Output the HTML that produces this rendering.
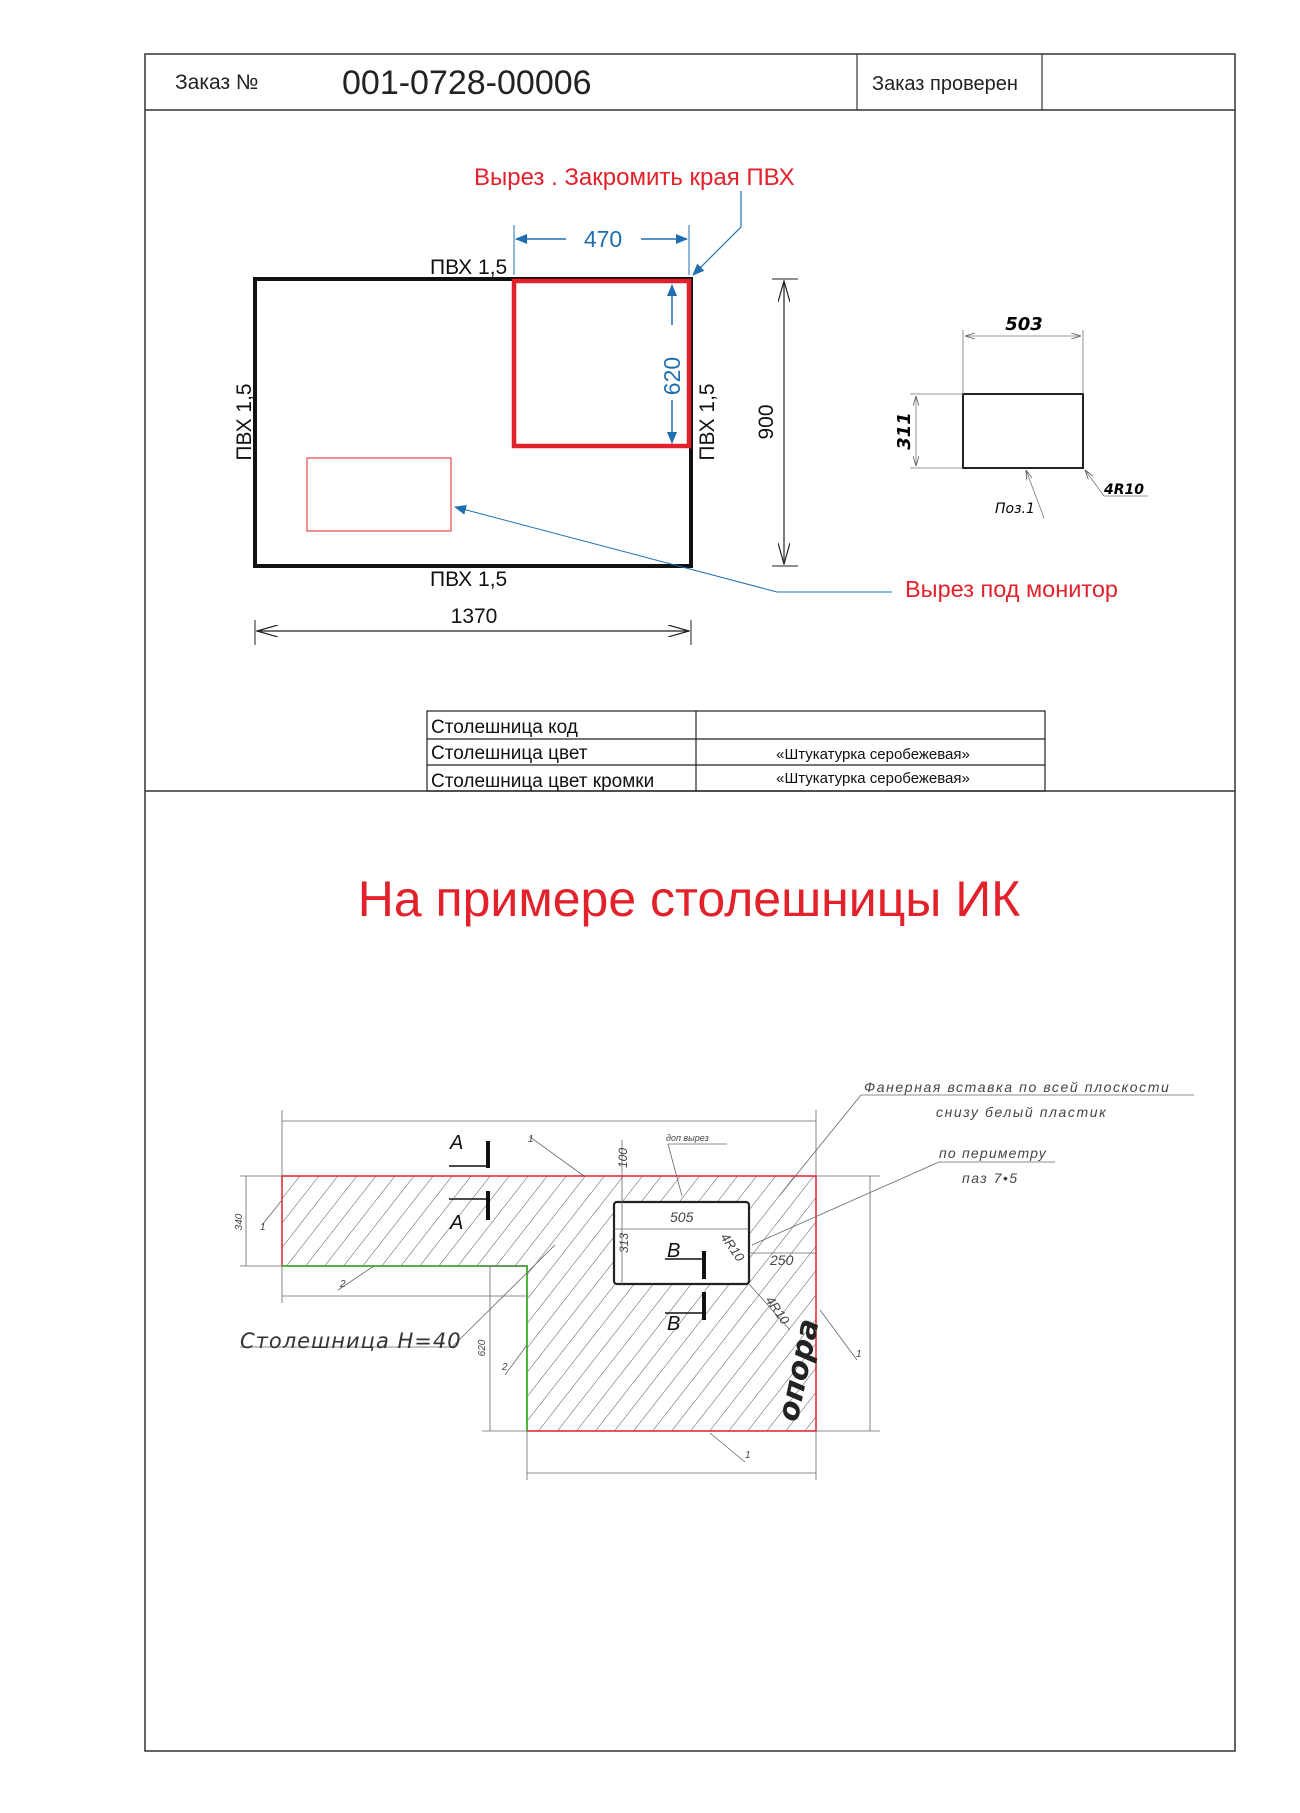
<!DOCTYPE html>
<html><head><meta charset="utf-8"><style>
html,body{margin:0;padding:0;background:#fff}
svg{display:block}
text{font-family:"Liberation Sans","DejaVu Sans",sans-serif}
.it{font-family:"DejaVu Sans","Liberation Sans",sans-serif;font-style:italic}
</style></head><body>
<svg width="1300" height="1813" viewBox="0 0 1300 1813" xmlns="http://www.w3.org/2000/svg">
<defs>
<pattern id="h" patternUnits="userSpaceOnUse" width="15" height="15" patternTransform="rotate(38)">
<line x1="0" y1="0" x2="0" y2="15" stroke="#555" stroke-width="1"/>
</pattern>
<marker id="ab" markerWidth="12" markerHeight="10" refX="11" refY="5" orient="auto" markerUnits="userSpaceOnUse"><path d="M0,0 L12,5 L0,10z" fill="#1f6fb0"/></marker>
<marker id="ak" markerWidth="22" markerHeight="12" refX="21" refY="6" orient="auto" markerUnits="userSpaceOnUse"><path d="M0,0 L21,6 L0,12" fill="none" stroke="#222" stroke-width="1.2"/></marker>
<marker id="as" markerWidth="10" markerHeight="6" refX="10" refY="3" orient="auto" markerUnits="userSpaceOnUse"><path d="M0,0 L10,3 L0,6" fill="none" stroke="#555" stroke-width="0.8"/></marker>
</defs>
<rect x="145" y="54" width="1090" height="1697" fill="none" stroke="#333" stroke-width="1.5"/>
<line x1="145" y1="110" x2="1235" y2="110" stroke="#333" stroke-width="1.5"/>
<line x1="857" y1="54" x2="857" y2="110" stroke="#333" stroke-width="1.2"/>
<line x1="1042" y1="54" x2="1042" y2="110" stroke="#333" stroke-width="1.2"/>
<line x1="145" y1="791" x2="1235" y2="791" stroke="#333" stroke-width="1.5"/>
<text x="175" y="89" font-size="21" fill="#222">Заказ №</text>
<text x="342" y="94" font-size="34" fill="#222">001-0728-00006</text>
<text x="872" y="90" font-size="20" fill="#222">Заказ проверен</text>

<text x="474" y="185" font-size="24" fill="#e3212a">Вырез . Закромить края ПВХ</text>
<polyline points="741,191 741,227 693,275" fill="none" stroke="#1f6fb0" stroke-width="1.2" marker-end="url(#ab)"/>
<rect x="255" y="279" width="436" height="287" fill="none" stroke="#111" stroke-width="4"/>
<rect x="514" y="281" width="175" height="165" fill="none" stroke="#e3212a" stroke-width="4.5"/>
<rect x="307" y="458" width="144" height="73" fill="none" stroke="#e3212a" stroke-width="1"/>
<line x1="514" y1="225" x2="514" y2="275" stroke="#1f6fb0" stroke-width="1"/>
<line x1="689" y1="225" x2="689" y2="275" stroke="#1f6fb0" stroke-width="1"/>
<line x1="566" y1="239" x2="516" y2="239" stroke="#1f6fb0" stroke-width="1.5" marker-end="url(#ab)"/>
<line x1="641" y1="239" x2="687" y2="239" stroke="#1f6fb0" stroke-width="1.5" marker-end="url(#ab)"/>
<text x="603" y="247" font-size="23" fill="#1f6fb0" text-anchor="middle">470</text>
<line x1="672" y1="325" x2="672" y2="285" stroke="#1f6fb0" stroke-width="1.5" marker-end="url(#ab)"/>
<line x1="672" y1="400" x2="672" y2="443" stroke="#1f6fb0" stroke-width="1.5" marker-end="url(#ab)"/>
<text transform="translate(680,376) rotate(-90)" font-size="23" fill="#1f6fb0" text-anchor="middle">620</text>
<text x="430" y="274" font-size="21" fill="#111">ПВХ 1,5</text>
<text x="430" y="586" font-size="21" fill="#111">ПВХ 1,5</text>
<text transform="translate(251,422) rotate(-90)" font-size="21" fill="#111" text-anchor="middle">ПВХ 1,5</text>
<text transform="translate(714,422) rotate(-90)" font-size="21" fill="#111" text-anchor="middle">ПВХ 1,5</text>
<line x1="772" y1="279" x2="798" y2="279" stroke="#222" stroke-width="1"/>
<line x1="772" y1="566" x2="798" y2="566" stroke="#222" stroke-width="1"/>
<line x1="784" y1="422" x2="784" y2="281" stroke="#222" stroke-width="1.2" marker-end="url(#ak)"/>
<line x1="784" y1="422" x2="784" y2="564" stroke="#222" stroke-width="1.2" marker-end="url(#ak)"/>
<text transform="translate(773,422) rotate(-90)" font-size="21" fill="#111" text-anchor="middle">900</text>
<line x1="255" y1="620" x2="255" y2="645" stroke="#222" stroke-width="1"/>
<line x1="691" y1="620" x2="691" y2="645" stroke="#222" stroke-width="1"/>
<line x1="473" y1="631" x2="257" y2="631" stroke="#222" stroke-width="1.2" marker-end="url(#ak)"/>
<line x1="473" y1="631" x2="689" y2="631" stroke="#222" stroke-width="1.2" marker-end="url(#ak)"/>
<text x="474" y="623" font-size="21" fill="#111" text-anchor="middle">1370</text>
<polyline points="892,592 777,592 455,507" fill="none" stroke="#1f6fb0" stroke-width="1" marker-end="url(#ab)"/>
<text x="905" y="597" font-size="23.5" fill="#e3212a">Вырез под монитор</text>
<rect x="963" y="394" width="120" height="74" fill="none" stroke="#222" stroke-width="2"/>
<line x1="963" y1="330" x2="963" y2="394" stroke="#777" stroke-width="0.8"/>
<line x1="1083" y1="330" x2="1083" y2="394" stroke="#777" stroke-width="0.8"/>
<line x1="1023" y1="336" x2="965" y2="336" stroke="#777" stroke-width="0.8" marker-end="url(#as)"/>
<line x1="1023" y1="336" x2="1081" y2="336" stroke="#777" stroke-width="0.8" marker-end="url(#as)"/>
<text x="1024" y="330" font-size="18" font-weight="bold" class="it" text-anchor="middle">503</text>
<line x1="910" y1="394" x2="963" y2="394" stroke="#777" stroke-width="0.8"/>
<line x1="910" y1="468" x2="963" y2="468" stroke="#777" stroke-width="0.8"/>
<line x1="916" y1="431" x2="916" y2="396" stroke="#777" stroke-width="0.8" marker-end="url(#as)"/>
<line x1="916" y1="431" x2="916" y2="466" stroke="#777" stroke-width="0.8" marker-end="url(#as)"/>
<text transform="translate(910,431) rotate(-90)" font-size="18" font-weight="bold" class="it" text-anchor="middle">311</text>
<polyline points="1044,518 1026,470" fill="none" stroke="#777" stroke-width="0.8" marker-end="url(#as)"/>
<polyline points="1148,496 1104,496 1085,470" fill="none" stroke="#777" stroke-width="0.8" marker-end="url(#as)"/>
<text x="1104" y="494" font-size="14" font-weight="bold" class="it">4R10</text>
<text x="995" y="513" font-size="14" class="it">Поз.1</text>
<g stroke="#222" stroke-width="1.2" fill="none">
<rect x="427" y="711" width="618" height="80"/>
<line x1="427" y1="739" x2="1045" y2="739"/>
<line x1="427" y1="765" x2="1045" y2="765"/>
<line x1="696" y1="711" x2="696" y2="791"/>
</g>
<text x="431" y="733" font-size="19" fill="#111">Столешница код</text>
<text x="431" y="759" font-size="19" fill="#111">Столешница цвет</text>
<text x="431" y="787" font-size="19" fill="#111">Столешница цвет кромки</text>
<text x="873" y="759" font-size="15" fill="#111" text-anchor="middle">«Штукатурка серобежевая»</text>
<text x="873" y="783" font-size="15" fill="#111" text-anchor="middle">«Штукатурка серобежевая»</text>

<text x="689" y="916" font-size="50" fill="#e3212a" text-anchor="middle">На примере столешницы ИК</text>

<path d="M282,1176 L816,1176 L816,1431 L527,1431 L527,1266 L282,1266 Z" fill="url(#h)"/>
<rect x="614" y="1202" width="135" height="82" rx="3" fill="#fff" stroke="#222" stroke-width="2.2"/>
<polyline points="282,1266 282,1176 816,1176 816,1431 527,1431" fill="none" stroke="#e3212a" stroke-width="1.5"/>
<polyline points="282,1266 527,1266 527,1431" fill="none" stroke="#3aab2a" stroke-width="1.8"/>
<g stroke="#666" stroke-width="0.8" fill="none">
<line x1="282" y1="1110" x2="282" y2="1176"/><line x1="816" y1="1110" x2="816" y2="1176"/>
<line x1="282" y1="1121" x2="816" y2="1121"/>
<line x1="240" y1="1176" x2="282" y2="1176"/><line x1="240" y1="1266" x2="282" y2="1266"/>
<line x1="246" y1="1176" x2="246" y2="1266"/>
<line x1="282" y1="1266" x2="282" y2="1303"/><line x1="282" y1="1296" x2="527" y2="1296"/>
<line x1="482" y1="1266" x2="527" y2="1266"/><line x1="482" y1="1431" x2="527" y2="1431"/>
<line x1="490" y1="1266" x2="490" y2="1431"/>
<line x1="816" y1="1176" x2="880" y2="1176"/><line x1="816" y1="1431" x2="880" y2="1431"/>
<line x1="870" y1="1176" x2="870" y2="1431"/>
<line x1="527" y1="1431" x2="527" y2="1480"/><line x1="816" y1="1431" x2="816" y2="1480"/>
<line x1="527" y1="1473" x2="816" y2="1473"/>
<line x1="622" y1="1140" x2="622" y2="1284"/>
<line x1="614" y1="1229" x2="749" y2="1229"/>
<line x1="749" y1="1253" x2="816" y2="1253"/>
<line x1="749" y1="1284" x2="790" y2="1330"/>
<line x1="861" y1="1095" x2="1194" y2="1095"/><line x1="861" y1="1095" x2="780" y2="1195"/>
<line x1="939" y1="1162" x2="1055" y2="1162"/><line x1="939" y1="1162" x2="752" y2="1245"/>
<line x1="240" y1="1347" x2="452" y2="1347"/><line x1="452" y1="1347" x2="555" y2="1245"/>
<line x1="668" y1="1144" x2="727" y2="1144"/><line x1="668" y1="1144" x2="682" y2="1196"/>
<line x1="530" y1="1137" x2="584" y2="1176"/>
<line x1="262" y1="1225" x2="282" y2="1200"/>
<line x1="338" y1="1290" x2="374" y2="1266"/>
<line x1="505" y1="1375" x2="527" y2="1345"/>
<line x1="857" y1="1360" x2="820" y2="1310"/>
<line x1="745" y1="1462" x2="710" y2="1433"/>
</g>
<g font-size="14" fill="#444" class="it">
<text x="864" y="1092" letter-spacing="1.6">Фанерная вставка по всей плоскости</text>
<text x="936" y="1117" letter-spacing="1.6">снизу белый пластик</text>
<text x="939" y="1158" letter-spacing="1.2">по периметру</text>
<text x="962" y="1183" letter-spacing="1.5">паз 7•5</text>
<text x="666" y="1141" font-size="9">доп вырез</text>
<text x="670" y="1222" font-size="14">505</text>
<text x="770" y="1265" font-size="14">250</text>
<text transform="translate(627,1158) rotate(-90)" font-size="12" text-anchor="middle">100</text>
<text transform="translate(628,1243) rotate(-90)" font-size="12" text-anchor="middle">313</text>
<text transform="translate(242,1222) rotate(-90)" font-size="10" text-anchor="middle">340</text>
<text transform="translate(485,1348) rotate(-90)" font-size="10" text-anchor="middle">620</text>
<text transform="translate(720,1237) rotate(55)" font-size="13">4R10</text>
<text transform="translate(765,1300) rotate(55)" font-size="13">4R10</text>
<text x="528" y="1142" font-size="10">1</text>
<text x="260" y="1230" font-size="10">1</text>
<text x="340" y="1287" font-size="10">2</text>
<text x="502" y="1370" font-size="10">2</text>
<text x="856" y="1357" font-size="10">1</text>
<text x="745" y="1458" font-size="10">1</text>
</g>
<text x="240" y="1348" font-size="21" fill="#333" letter-spacing="1" class="it">Столешница H=40</text>
<text transform="translate(808,1372) rotate(-78)" font-size="30" font-weight="bold" fill="#222" text-anchor="middle" class="it">опора</text>
<g stroke="#111" fill="none">
<line x1="488" y1="1141" x2="488" y2="1168" stroke-width="4"/>
<line x1="449" y1="1166" x2="488" y2="1166" stroke-width="1.5"/>
<line x1="488" y1="1191" x2="488" y2="1220" stroke-width="4"/>
<line x1="449" y1="1199" x2="488" y2="1199" stroke-width="1.5"/>
<line x1="704" y1="1251" x2="704" y2="1279" stroke-width="4"/>
<line x1="665" y1="1259" x2="704" y2="1259" stroke-width="1.5"/>
<line x1="704" y1="1292" x2="704" y2="1320" stroke-width="4"/>
<line x1="665" y1="1313" x2="704" y2="1313" stroke-width="1.5"/>
</g>
<g font-size="20" fill="#111" class="it">
<text x="450" y="1149">A</text>
<text x="450" y="1229">A</text>
<text x="667" y="1257">B</text>
<text x="667" y="1330">B</text>
</g>
</svg>
</body></html>
